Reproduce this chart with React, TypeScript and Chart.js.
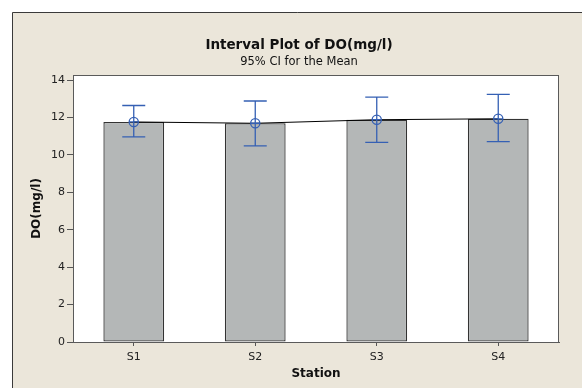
import React, { useEffect, useRef } from "react";
import { Chart, registerables } from "chart.js";

Chart.register(...registerables);

const categories = ["S1", "S2", "S3", "S4"];
const means = [11.76, 11.69, 11.88, 11.93];
const lowerCI = [10.96, 10.48, 10.67, 10.71];
const upperCI = [12.64, 12.88, 13.09, 13.23];
const yTicks = [0, 2, 4, 6, 8, 10, 12, 14];
const titleText = "Interval Plot of DO(mg/l)";
const subtitleText = "95% CI for the Mean";
const xTitle = "Station";
const yTitle = "DO(mg/l)";

const FONT = "'DejaVu Sans', Verdana, sans-serif";
const BLUE = "#3560b4";

const decorPlugin = {
  id: "decor",
  beforeDraw(chart: any) {
    const { ctx, width, height, chartArea } = chart;
    ctx.save();
    ctx.fillStyle = "#ffffff";
    ctx.fillRect(0, 0, width, height);
    ctx.fillStyle = "#ebe6da";
    ctx.fillRect(12, 12, width, height);
    ctx.strokeStyle = "#3a3a3a";
    ctx.lineWidth = 1;
    ctx.beginPath();
    ctx.moveTo(12.5, height);
    ctx.lineTo(12.5, 12.5);
    ctx.lineTo(width, 12.5);
    ctx.stroke();
    // plot area
    ctx.fillStyle = "#ffffff";
    ctx.fillRect(chartArea.left, chartArea.top, chartArea.right - chartArea.left, chartArea.bottom - chartArea.top);
    // titles
    ctx.fillStyle = "#111111";
    ctx.textAlign = "center";
    ctx.textBaseline = "alphabetic";
    ctx.font = `bold 13.5px ${FONT}`;
    ctx.fillText(titleText, 299, 48.5);
    ctx.font = `11.5px ${FONT}`;
    ctx.fillText(subtitleText, 299, 65);
    ctx.restore();
  },
  afterDatasetsDraw(chart: any) {
    const { ctx, scales, chartArea } = chart;
    const x = scales.x;
    const y = scales.y;
    ctx.save();
    // plot frame
    ctx.strokeStyle = "#5a5a5a";
    ctx.lineWidth = 1;
    ctx.strokeRect(chartArea.left + 0.5, chartArea.top + 0.5, chartArea.right - chartArea.left - 1, chartArea.bottom - chartArea.top);
    ctx.strokeStyle = BLUE;
    ctx.lineWidth = 1.3;
    categories.forEach((_, i) => {
      const cx = x.getPixelForValue(i);
      const yl = y.getPixelForValue(lowerCI[i]);
      const yu = y.getPixelForValue(upperCI[i]);
      const ym = y.getPixelForValue(means[i]);
      const half = 11.5;
      ctx.beginPath();
      ctx.moveTo(cx, yl);
      ctx.lineTo(cx, yu);
      ctx.moveTo(cx - half, yu);
      ctx.lineTo(cx + half, yu);
      ctx.moveTo(cx - half, yl);
      ctx.lineTo(cx + half, yl);
      ctx.stroke();
      const r = 4.6;
      ctx.beginPath();
      ctx.arc(cx, ym, r, 0, Math.PI * 2);
      ctx.moveTo(cx - r, ym);
      ctx.lineTo(cx + r, ym);
      ctx.stroke();
    });
    ctx.restore();
  },
};

export default function App() {
  const ref = useRef<HTMLCanvasElement | null>(null);
  useEffect(() => {
    document.body.style.margin = "0";
    if (!ref.current) return;
    const chart = new Chart(ref.current, {
      type: "bar",
      data: {
        labels: categories,
        datasets: [
          {
            type: "line" as any,
            data: means,
            borderColor: "#000000",
            borderWidth: 1,
            pointRadius: 0,
            fill: false,
            order: 1,
          } as any,
          {
            type: "bar",
            data: means,
            backgroundColor: "#b4b7b7",
            borderColor: "#333333",
            borderWidth: 1.3,
            borderSkipped: false,
            categoryPercentage: 1,
            barPercentage: 0.5,
            order: 2,
          },
        ],
      },
      options: {
        animation: false,
        responsive: false,
        maintainAspectRatio: false,
        events: [],
        layout: { padding: { left: 0, right: 23, top: 75, bottom: 0 } },
        plugins: {
          legend: { display: false },
          tooltip: { enabled: false },
          title: { display: false },
        },
        scales: {
          x: {
            type: "category",
            offset: true,
            grid: { display: true, offset: false, drawOnChartArea: false, drawTicks: true, tickLength: 4, color: "#555555" },
            border: { display: true, color: "#5a5a5a" },
            ticks: { color: "#222222", font: { family: FONT, size: 11 }, padding: 5 },
            title: { display: true, text: xTitle, color: "#111111", font: { family: FONT, size: 12, weight: "bold" }, padding: { top: 0, bottom: 6.8 } },
            afterFit: (s: any) => { s.height = 46; },
          },
          y: {
            min: 0,
            max: 14.27,
            grid: { display: true, drawOnChartArea: false, drawTicks: true, tickLength: 6, color: "#555555" },
            border: { display: true, color: "#5a5a5a" },
            ticks: { color: "#222222", font: { family: FONT, size: 11 }, padding: 2 },
            title: { display: true, text: yTitle, color: "#111111", font: { family: FONT, size: 12, weight: "bold" }, padding: { top: 29.8, bottom: 0 } },
            afterBuildTicks: (s: any) => { s.ticks = yTicks.map((v) => ({ value: v })); },
            afterFit: (s: any) => { s.width = 73; },
          },
        },
      },
      plugins: [decorPlugin],
    });
    return () => chart.destroy();
  }, []);
  return <canvas ref={ref} width={582} height={388} style={{ display: "block", width: 582, height: 388 }} />;
}
